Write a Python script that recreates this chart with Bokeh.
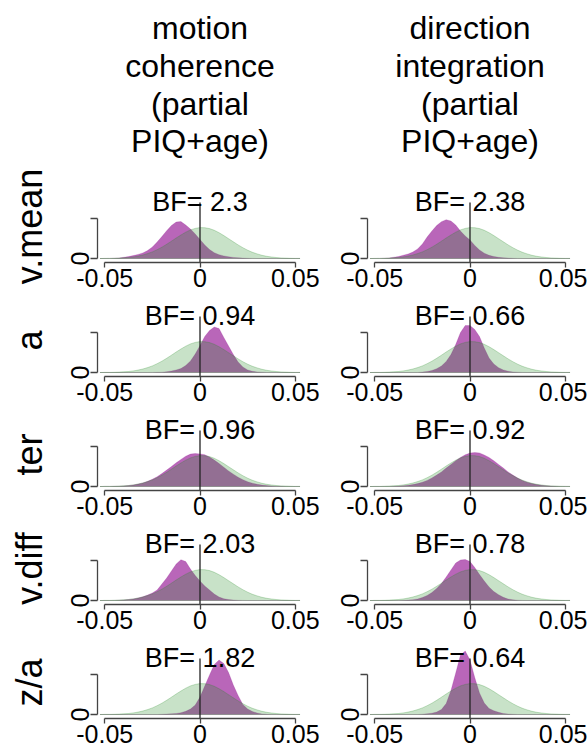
from bokeh.plotting import figure
from bokeh.layouts import column, row
from bokeh.models import Range1d, FixedTicker, Label
from bokeh.embed import file_html
from bokeh.resources import INLINE
from bokeh.core.properties import value

# ---------------- data ----------------
x_grid = [-0.0525, -0.05, -0.0475, -0.045, -0.0425, -0.04, -0.0375, -0.035, -0.0325, -0.03, -0.0275,
          -0.025, -0.0225, -0.02, -0.0175, -0.015, -0.0125, -0.01, -0.0075, -0.005, -0.0025, 0.0,
          0.0025, 0.005, 0.0075, 0.01, 0.0125, 0.015, 0.0175, 0.02, 0.0225, 0.025, 0.0275,
          0.03, 0.0325, 0.035, 0.0375, 0.04, 0.0425, 0.045, 0.0475, 0.05, 0.0525]

prior = [0.0, 0.1, 0.1, 0.2, 0.4, 0.7, 1.0, 1.6, 2.4, 3.5, 4.9,
         6.6, 8.8, 11.3, 14.2, 17.3, 20.5, 23.5, 26.3, 28.6, 30.1, 30.9,
         30.8, 29.9, 28.2, 25.8, 22.9, 19.8, 16.7, 13.6, 10.8, 8.3, 6.2,
         4.6, 3.2, 2.2, 1.5, 1.0, 0.6, 0.4, 0.2, 0.1, 0.1]

post_vmean_motion = [0, 0, 0.1, 0.3, 0.6, 1.2, 1.9, 2.9, 4.1, 5.6, 8.0,
                     11.5, 16.5, 22.0, 27.8, 33.0, 36.5, 36.9, 33.5, 29.5, 24.5, 19.0,
                     13.5, 9.0, 5.8, 3.8, 2.6, 1.7, 1.1, 0.7, 0.4, 0.2, 0.1,
                     0, 0, 0, 0, 0, 0, 0, 0, 0, 0]
post_vmean_direction = [0, 0, 0.1, 0.3, 0.6, 1.3, 2.0, 3.3, 4.5, 6.5, 9.5,
                        14.5, 21.5, 27.5, 33.0, 36.8, 38.8, 37.5, 33.5, 27.5, 22.5, 18.5,
                        13.0, 8.5, 5.3, 3.2, 2.0, 1.2, 0.7, 0.4, 0.2, 0.1, 0,
                        0, 0, 0, 0, 0, 0, 0, 0, 0, 0]
post_a_motion = [0, 0, 0, 0, 0, 0, 0, 0, 0, 0, 0,
                 0.1, 0.2, 0.3, 0.8, 1.5, 2.5, 4.0, 7.0, 11.5, 18.5, 27.0,
                 36.0, 42.0, 45.5, 44.0, 35.0, 26.5, 18.0, 10.5, 5.5, 2.6, 1.2,
                 0.6, 0.3, 0.1, 0, 0, 0, 0, 0, 0, 0]
post_a_direction = [0, 0, 0, 0, 0, 0, 0, 0, 0, 0, 0.1,
                    0.4, 1.0, 2.0, 3.8, 6.5, 11.0, 18.0, 28.0, 40.0, 47.0, 47.0,
                    43.0, 36.0, 24.5, 14.5, 8.5, 4.8, 2.6, 1.3, 0.6, 0.3, 0.1,
                    0, 0, 0, 0, 0, 0, 0, 0, 0, 0]
post_ter_motion = [0.0, 0.1, 0.1, 0.2, 0.3, 0.6, 0.9, 1.5, 2.4, 3.6, 5.2,
                   7.3, 9.8, 12.9, 16.4, 20.0, 23.7, 27.1, 30.3, 32.4, 33.0, 32.6,
                   31.8, 29.4, 26.4, 23.0, 19.3, 15.6, 12.3, 9.3, 6.8, 4.8, 3.3,
                   2.2, 1.4, 0.9, 0.5, 0.3, 0.2, 0.1, 0.1, 0.0, 0.0]
post_ter_direction = [0, 0, 0, 0.1, 0.1, 0.2, 0.4, 0.7, 1.2, 1.9, 2.9,
                      4.3, 6.1, 8.5, 11.4, 14.6, 18.4, 22.1, 25.8, 29.1, 31.7, 33.4,
                      34.0, 33.6, 31.5, 29.1, 25.8, 22.1, 18.4, 14.6, 11.4, 8.5, 6.1,
                      4.3, 2.9, 1.9, 1.2, 0.7, 0.4, 0.2, 0.1, 0.1, 0]
post_vdiff_motion = [0, 0, 0, 0.1, 0.3, 0.6, 1.0, 1.6, 2.5, 3.8, 5.5,
                     7.5, 10.5, 16.5, 22.5, 29.5, 36.5, 40.8, 39.0, 31.5, 25.0, 19.5,
                     14.5, 10.5, 6.5, 3.5, 1.8, 0.9, 0.5, 0.2, 0.1, 0, 0,
                     0, 0, 0, 0, 0, 0, 0, 0, 0, 0]
post_vdiff_direction = [0, 0, 0, 0, 0, 0, 0, 0.2, 0.4, 0.8, 1.5,
                        3.0, 5.0, 8.0, 12.0, 17.0, 23.5, 30.5, 37.5, 40.5, 41.0, 39.0,
                        33.0, 26.0, 19.5, 13.5, 9.0, 5.8, 3.2, 1.5, 0.7, 0.3, 0.1,
                        0, 0, 0, 0, 0, 0, 0, 0, 0, 0]
post_za_motion = [0, 0, 0, 0, 0, 0, 0, 0, 0, 0, 0,
                  0, 0, 0.2, 0.4, 0.7, 1.0, 1.8, 3.2, 5.5, 9.5, 17.5,
                  28.5, 39.5, 50.0, 54.5, 51.0, 42.0, 29.5, 19.0, 10.0, 5.5, 3.0,
                  1.5, 0.6, 0.2, 0, 0, 0, 0, 0, 0, 0]
post_za_direction = [0, 0, 0, 0, 0, 0, 0, 0, 0, 0, 0,
                     0.3, 0.7, 1.3, 2.5, 5.0, 11.0, 24.0, 41.5, 59.5, 63.5, 54.5,
                     37.0, 21.5, 11.5, 6.0, 3.8, 2.2, 1.0, 0.5, 0.2, 0, 0,
                     0, 0, 0, 0, 0, 0, 0, 0, 0, 0]

row_labels = ["v.mean", "a", "ter", "v.diff", "z/a"]
column_titles = [["motion", "coherence", "(partial", "PIQ+age)"],
                 ["direction", "integration", "(partial", "PIQ+age)"]]
bf_motion = ["2.3", "0.94", "0.96", "2.03", "1.82"]
bf_direction = ["2.38", "0.66", "0.92", "0.78", "0.64"]
x_ticks = [-0.05, 0.0, 0.05]
x_tick_labels = ["-0.05", "0", "0.05"]
y_ticks = [0, 40]
y_tick_labels = ["0", ""]

posteriors = [[post_vmean_motion, post_vmean_direction],
              [post_a_motion, post_a_direction],
              [post_ter_motion, post_ter_direction],
              [post_vdiff_motion, post_vdiff_direction],
              [post_za_motion, post_za_direction]]
bfs = [bf_motion, bf_direction]

for pr in posteriors:
    for s in pr:
        assert len(s) == len(x_grid)
assert len(prior) == len(x_grid)

# ---------------- style ----------------
FONT = "Liberation Sans"
ROW_FONT = "Liberation Sans Narrow, Liberation Sans"
PURPLE = "#8B008B"
GREEN = "#228B22"
AXIS_COL = "#444444"
ref_x = 0.0
ref_top = 56
Y_LOW, Y_HIGH = -4, 68
X_LOW, X_HIGH = -0.0538, 0.0538
FRAME_W, FRAME_H = 205, 72
HEADER_H = 160


def closed(xs, ys):
    return [xs[0]] + list(xs) + [xs[-1]], [0] + list(ys) + [0]


def panel(r, c):
    left = 97 if c == 0 else 43
    right = 22 if c == 0 else 15
    top = (190 - HEADER_H) if r == 0 else 5
    bottom = 34 if r == 4 else 37
    p = figure(width=left + FRAME_W + right, height=top + FRAME_H + bottom,
               x_range=Range1d(X_LOW, X_HIGH), y_range=Range1d(Y_LOW, Y_HIGH),
               output_backend="svg", toolbar_location=None,
               min_border_left=left, min_border_right=right,
               min_border_top=top, min_border_bottom=bottom)
    p.outline_line_color = None
    p.xgrid.visible = False
    p.ygrid.visible = False
    p.background_fill_color = "white"
    p.border_fill_color = "white"

    px, py = closed(x_grid, posteriors[r][c])
    p.patch(px, py, fill_color=PURPLE, fill_alpha=0.6, line_color=PURPLE, line_alpha=0.3, line_width=0.6)
    gx, gy = closed(x_grid, prior)
    p.patch(gx, gy, fill_color=GREEN, fill_alpha=0.25, line_color=GREEN, line_alpha=0.25, line_width=1)
    p.segment(x0=[ref_x], y0=[Y_LOW], x1=[ref_x], y1=[ref_top], line_color="#222222", line_width=1.3)

    xa = p.xaxis[0]
    xa.ticker = FixedTicker(ticks=x_ticks)
    xa.major_label_overrides = {t: l for t, l in zip(x_ticks, x_tick_labels)}
    xa.bounds = (x_ticks[0], x_ticks[-1])
    xa.axis_line_color = AXIS_COL
    xa.axis_line_width = 1.3
    xa.major_tick_line_color = AXIS_COL
    xa.major_tick_line_width = 1.3
    xa.major_tick_in = 0
    xa.major_tick_out = 5
    xa.minor_tick_line_color = None
    xa.major_label_standoff = 1
    xa.major_label_text_font = FONT
    xa.major_label_text_font_size = "25px"
    xa.major_label_text_color = "black"

    ya = p.yaxis[0]
    ya.ticker = FixedTicker(ticks=y_ticks)
    ya.major_label_overrides = {t: l for t, l in zip(y_ticks, y_tick_labels)}
    ya.bounds = (y_ticks[0], y_ticks[-1])
    ya.axis_line_color = AXIS_COL
    ya.axis_line_width = 1.3
    ya.major_tick_line_color = AXIS_COL
    ya.major_tick_line_width = 1.3
    ya.major_tick_in = 0
    ya.major_tick_out = 7
    ya.minor_tick_line_color = None
    ya.major_label_orientation = "vertical"
    ya.major_label_standoff = 2
    ya.major_label_text_font = FONT
    ya.major_label_text_font_size = "25px"
    ya.major_label_text_color = "black"
    if c == 0:
        ya.axis_label = row_labels[r]
        ya.axis_label_text_font = ROW_FONT
        ya.axis_label_text_font_size = "36px"
        ya.axis_label_text_font_style = "normal"
        ya.axis_label_text_color = "black"
        ya.axis_label_standoff = 18

    p.add_layout(Label(x=ref_x, y=ref_top + 1, text="BF= " + bfs[c][r], text_align="center",
                       text_baseline="alphabetic", text_font=FONT, text_font_size="27px",
                       text_color="black"))
    return p


# header with column titles
header = figure(width=587, height=HEADER_H, x_range=Range1d(0, 587), y_range=Range1d(HEADER_H, 0),
                x_axis_type=None, y_axis_type=None, output_backend="svg", toolbar_location=None,
                min_border=0, min_border_left=0, min_border_right=0, min_border_top=0, min_border_bottom=0)
header.outline_line_color = None
header.xgrid.visible = False
header.ygrid.visible = False
col_centers = [199.5, 469.5]
line_y = [27, 65, 103, 140]
tx, ty, tt = [], [], []
for ci, lines in enumerate(column_titles):
    for li, t in enumerate(lines):
        tx.append(col_centers[ci])
        ty.append(line_y[li])
        tt.append(t)
header.text(x=tx, y=ty, text=tt, text_font=value(FONT), text_font_size=value("32px"),
            text_align="center", text_baseline="middle", text_color="black")

rows = [header]
for r in range(5):
    rows.append(row(panel(r, 0), panel(r, 1), spacing=0))
layout = column(*rows, spacing=0)

open("out.html", "w").write(file_html(layout, INLINE))
